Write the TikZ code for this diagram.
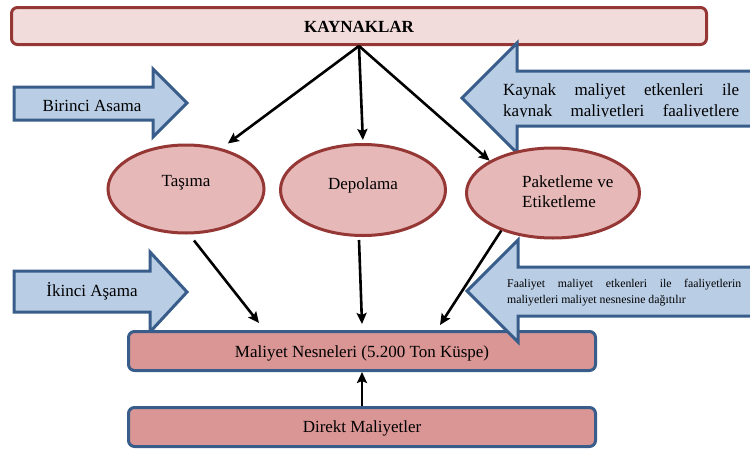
\documentclass[tikz,border=0pt]{standalone}
\usepackage{fontspec}
\setmainfont{Liberation Serif}
\usetikzlibrary{arrows.meta,shapes.geometric,calc}
\definecolor{kfill}{HTML}{F2DCDB}
\definecolor{kred}{HTML}{953735}
\definecolor{efill}{HTML}{E6B9B8}
\definecolor{mfill}{HTML}{D99694}
\definecolor{bline}{HTML}{385D8A}
\definecolor{afill}{HTML}{B9CDE5}
\begin{document}
\begin{tikzpicture}[x=1pt,y=1pt,
  topbox/.style={draw=kred, line width=3pt, fill=kfill, rounded corners=6pt, minimum width=695pt, minimum height=37pt, inner sep=0pt},
  costbox/.style={draw=bline, line width=3pt, fill=mfill, rounded corners=6pt, minimum width=467pt, minimum height=39pt, inner sep=0pt},
  actell/.style={ellipse, draw=kred, line width=3pt, fill=efill, inner sep=0pt},
  blockarrow/.style={draw=bline, line width=3pt, fill=afill, line join=miter},
  conn/.style={draw=black, line width=2.6pt, -{Stealth[length=11pt,width=10pt,inset=2pt]}},
  big/.style={font=\fontsize{17}{20}\selectfont, inner sep=0pt},
  small/.style={font=\fontsize{11.8}{14}\selectfont, inner sep=0pt}]
\useasboundingbox (0,0) rectangle (750,-450);

% top box
\node[topbox] (kay) at (359,-26) {};
\node[big, anchor=base] (kayt) at (359,-32) {\bfseries KAYNAKLAR};

% left block arrows
\draw[blockarrow] (14,-87) -- (153,-87) -- (153,-69) -- (187,-103) -- (153,-137) -- (153,-120) -- (14,-120) -- cycle;
\node[big, anchor=base] (birinci) at (92,-111) {Birinci Asama};
\draw[blockarrow] (14,-271) -- (150,-271) -- (150,-252) -- (187,-292) -- (150,-332) -- (150,-312) -- (14,-312) -- cycle;
\node[big, anchor=base] (ikinci) at (92,-296) {İkinci Aşama};

% upper right block arrow
\draw[blockarrow] (770,-71) -- (517,-71) -- (517,-43) -- (462,-98) -- (517,-153) -- (517,-126) -- (770,-126);
\node[big, anchor=base west] (kt1) at (503,-95) {\makebox[236pt][s]{Kaynak maliyet etkenleri ile}};
\begin{scope}
\clip (470,-100) rectangle (750,-116.8);
\node[big, anchor=base west] (kt2) at (503,-116) {\makebox[236pt][s]{kaynak maliyetleri faaliyetlere}};
\end{scope}

% ellipses
\node[actell, minimum width=156pt, minimum height=88pt] (tas) at (186,-189) {};
\node[big, anchor=base] (tast) at (186,-186) {Taşıma};
\node[actell, minimum width=165pt, minimum height=91pt] (dep) at (363,-190) {};
\node[big, anchor=base] (dept) at (363,-189) {Depolama};
\node[actell, minimum width=173pt, minimum height=90pt] (pak) at (553,-193) {};
\node[big, anchor=base west] (pakt1) at (522,-187) {Paketleme ve};
\node[big, anchor=base west] (pakt2) at (522,-207) {Etiketleme};

% connectors from resources
\draw[conn, shorten >=8pt] (kay.south) -- (tas.49);
\draw[conn, shorten >=3pt] (kay.south) -- (dep.north);
\draw[conn] (kay.south) -- (pak.153);

% cost object boxes
\node[costbox] (mal) at (362,-351) {};
\node[big, anchor=base] (malt) at (362,-357) {Maliyet Nesneleri (5.200 Ton Küspe)};
\node[costbox] (dir) at (362,-427) {};
\node[big, anchor=base] (dirt) at (362,-432) {Direkt Maliyetler};

% connectors to cost object
\draw[conn] ([xshift=8pt,yshift=-6pt]tas.south) -- ([xshift=-103pt,yshift=7pt]mal.north);
\draw[conn] ([xshift=-4pt,yshift=-3pt]dep.south) -- ([yshift=6pt]mal.north);
\draw[conn] (pak.216) -- ([xshift=78pt,yshift=5pt]mal.north);
\draw[conn] (dir.north) -- (mal.south);

% lower right block arrow
\draw[blockarrow] (770,-267) -- (518,-267) -- (518,-240) -- (467,-291) -- (518,-342) -- (518,-316) -- (770,-316);
\node[small, anchor=base west] (ft1) at (507,-287) {\makebox[234pt][s]{Faaliyet maliyet etkenleri ile faaliyetlerin}};
\node[small, anchor=base west] (ft2) at (507,-303) {maliyetleri maliyet nesnesine dağıtılır};
\end{tikzpicture}
\end{document}
